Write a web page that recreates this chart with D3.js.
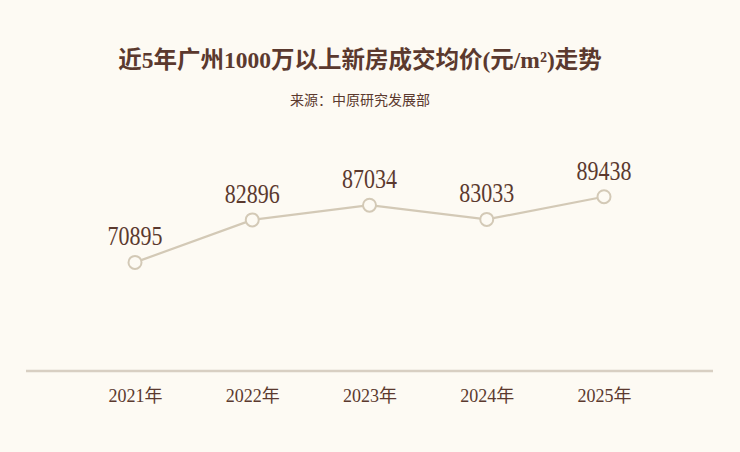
<!DOCTYPE html>
<html>
<head>
<meta charset="utf-8">
<script src="https://cdn.jsdelivr.net/npm/d3@7/dist/d3.min.js"></script>
<style>
  html, body { margin: 0; padding: 0; background: #fdfaf3; }
  svg { display: block; }
</style>
</head>
<body>
<script>
const years = ["2021年", "2022年", "2023年", "2024年", "2025年"];
const prices = [70895, 82896, 87034, 83033, 89438];
const titleText = "近5年广州1000万以上新房成交均价(元/m²)走势";
const subtitleText = "来源：中原研究发展部";

const W = 740, H = 452;
const bg = "#fdfaf3";
const textColor = "#5b392e";
const lineColor = "#d3c9b6";
const axisColor = "#d8cfc2";
const serif = "'Liberation Serif', 'Noto Sans CJK SC', serif";

const svg = d3.select("body").append("svg")
  .attr("width", W).attr("height", H);

svg.append("rect").attr("width", W).attr("height", H).attr("fill", bg);

svg.append("text")
  .attr("x", 360).attr("y", 68)
  .attr("text-anchor", "middle")
  .attr("font-family", serif)
  .attr("font-size", 23.5)
  .attr("font-weight", "bold")
  .attr("fill", textColor)
  .text(titleText);

svg.append("text")
  .attr("x", 360).attr("y", 105)
  .attr("text-anchor", "middle")
  .attr("font-family", serif)
  .attr("font-size", 14)
  .attr("fill", textColor)
  .text(subtitleText);

const x = d3.scalePoint().domain(years).range([135, 604]);
const y = d3.scaleLinear().domain([60000, 95000]).range([301, 177]);

// baseline axis
const axisY = 371;
const xAxis = d3.axisBottom(x).tickSize(0).tickPadding(18);
const gAxis = svg.append("g").attr("transform", `translate(0,${axisY})`).call(xAxis);
gAxis.select(".domain").remove();
gAxis.append("line")
  .attr("x1", 26).attr("x2", 713)
  .attr("y1", 0).attr("y2", 0)
  .attr("stroke", axisColor).attr("stroke-width", 2.5);
gAxis.selectAll(".tick text")
  .attr("font-family", serif)
  .attr("font-size", 18)
  .attr("fill", textColor);

const data = years.map((d, i) => ({ year: d, value: prices[i] }));

const line = d3.line().x(d => x(d.year)).y(d => y(d.value));
svg.append("path")
  .datum(data)
  .attr("d", line)
  .attr("fill", "none")
  .attr("stroke", lineColor)
  .attr("stroke-width", 2.2);

svg.selectAll("circle.pt")
  .data(data).enter().append("circle")
  .attr("class", "pt")
  .attr("cx", d => x(d.year)).attr("cy", d => y(d.value))
  .attr("r", 6.5)
  .attr("fill", bg)
  .attr("stroke", lineColor)
  .attr("stroke-width", 2);

svg.selectAll("text.val")
  .data(data).enter().append("text")
  .attr("class", "val")
  .attr("transform", d => `translate(${x(d.year)},${y(d.value) - 17}) scale(1,1.2)`)
  .attr("text-anchor", "middle")
  .attr("font-family", serif)
  .attr("font-size", 22)
  .attr("fill", textColor)
  .text(d => d.value);
</script>
</body>
</html>
